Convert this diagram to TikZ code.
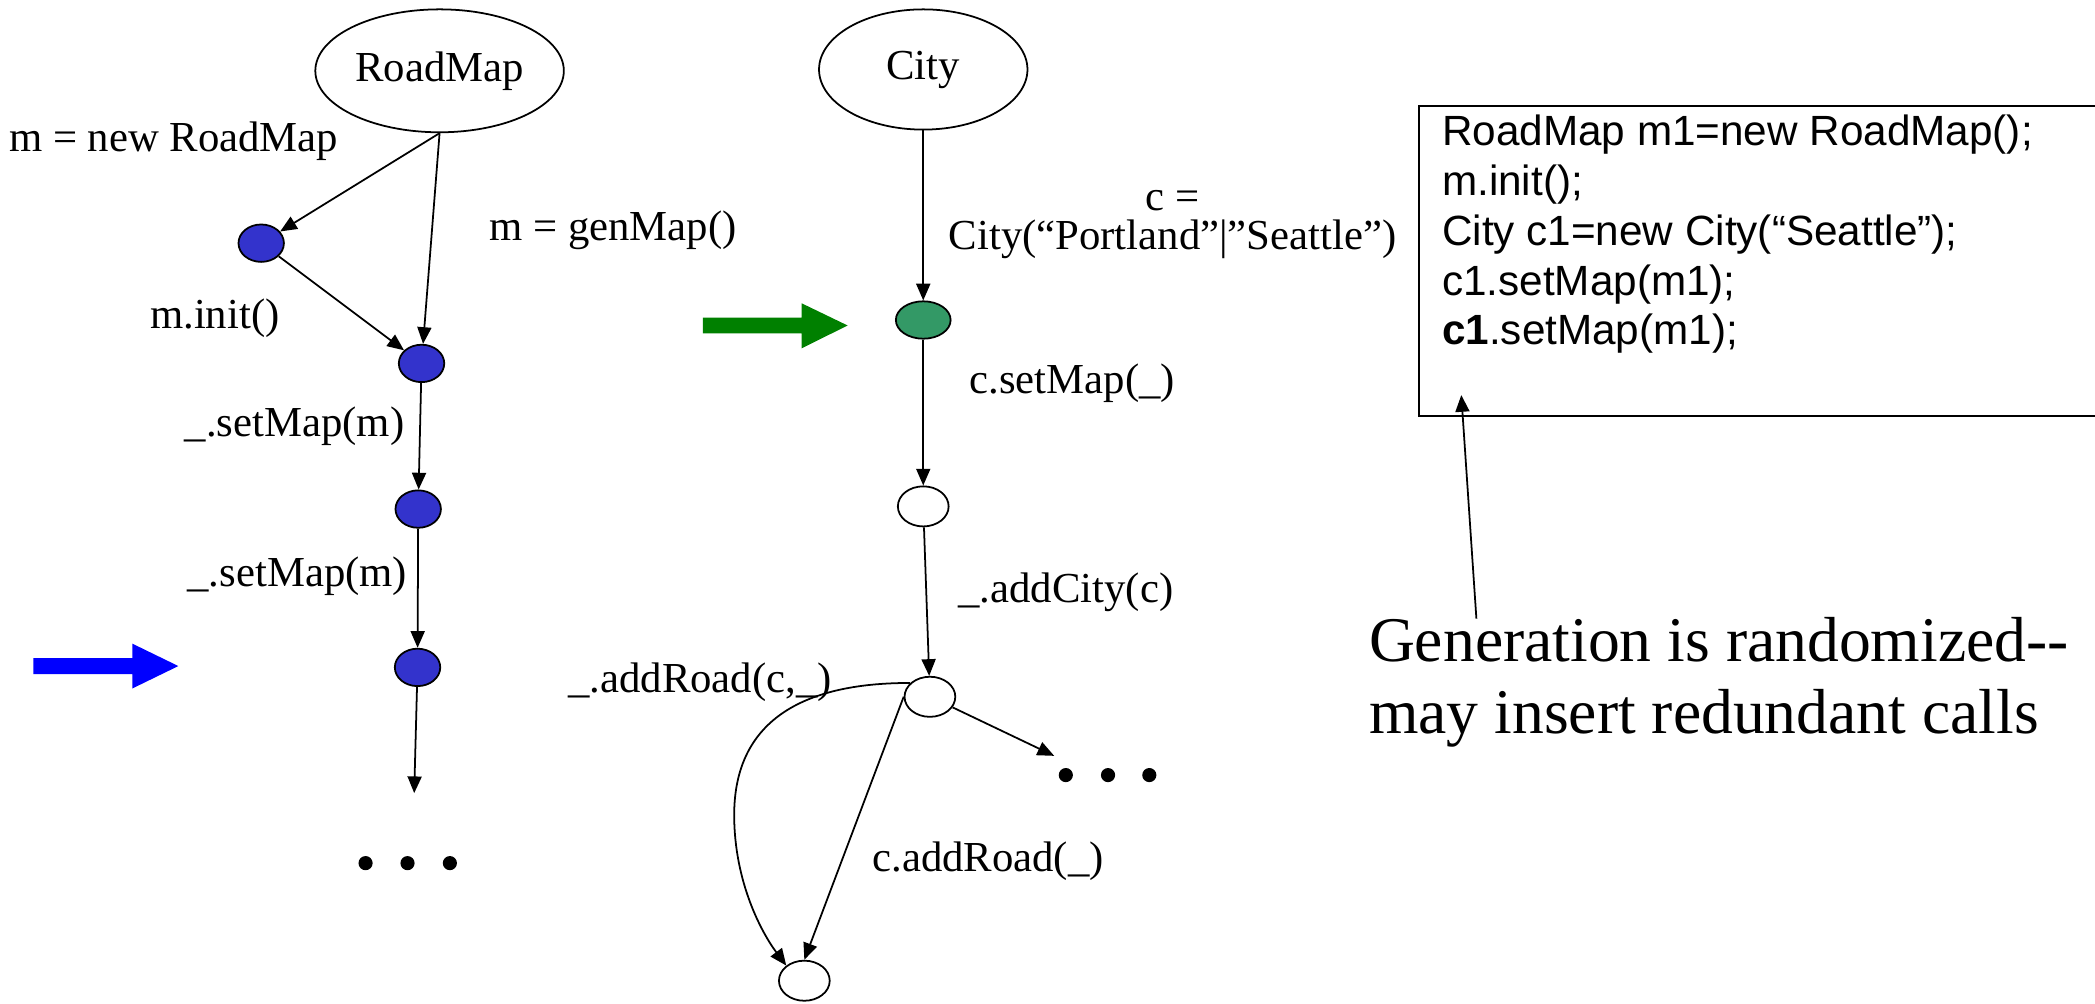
\documentclass[tikz,border=0pt]{standalone}
\usepackage{fontspec}
\setmainfont{Liberation Serif}
\setsansfont{Liberation Sans}
\usetikzlibrary{shapes.geometric,arrows.meta}
\definecolor{objblue}{HTML}{3333CC}
\definecolor{objgreen}{HTML}{339966}
\definecolor{fatgreen}{HTML}{008000}

\begin{document}
\begin{tikzpicture}[x=0.2mm,y=-0.2mm,
	cls/.style={ellipse,draw,line width=0.75pt,inner sep=0pt,font=\fontsize{18.2}{20}\selectfont},
	obj/.style={ellipse,draw,line width=0.75pt,inner sep=0pt,minimum width=7.6mm,minimum height=6mm},
	bobj/.style={obj,fill=objblue,minimum width=6.8mm,minimum height=5.6mm},
	lbl/.style={anchor=base west,inner sep=0pt,font=\fontsize{18.2}{17}\selectfont},
	link/.style={-{Triangle[length=2.5mm,width=2.1mm]},line width=0.75pt}]
	\useasboundingbox (0,0) rectangle (1568,751);
	% RoadMap side
	\node (rm)[cls,minimum width=37.2mm,minimum height=18.4mm] at (329,53) {RoadMap};
	\node (m1)[bobj] at (195.5,182) {};
	\node (m2)[bobj] at (315.5,272) {};
	\node (m3)[bobj] at (313,381) {};
	\node (m4)[bobj] at (312.5,499.5) {};
	\coordinate (mend) at (310,593.6);
	\draw[link] (rm.south) -- (m1);
	\draw[link] (rm.south) -- (m2);
	\draw[link] (m1) -- (m2);
	\draw[link] (m2) -- (m3);
	\draw[link] (m3) -- (m4);
	\draw[link] (m4) -- (mend);
	\node (l1)[lbl] at (6.5,113.5) {m = new RoadMap};
	\node (l2)[lbl] at (112,246) {m.init()};
	\node (l3)[lbl] at (366,180) {m = genMap()};
	\node (l4)[lbl] at (138,326.7) {\_.setMap(m)};
	\node (l5)[lbl] at (140,439) {\_.setMap(m)};
	\fill (273.6,646) circle (5.3) (305,646) circle (5.3) (336.7,646) circle (5.3);
	\fill[blue] (25,492.6) -- (99,492.6) -- (99,481.7) -- (133.5,498.5) -- (99,515.3) -- (99,504.5) -- (25,504.5) -- cycle;
	% City side
	\node (city)[cls,minimum width=31.2mm,minimum height=18mm] at (691,52) {City};
	\node (c1)[obj,fill=objgreen,minimum width=8.2mm,minimum height=5.6mm] at (691,239.5) {};
	\node (c2)[obj] at (691,379) {};
	\node (c3)[obj] at (696,521.5) {};
	\node (c4)[obj] at (602,734) {};
	\coordinate (cend) at (789,565.7);
	\draw[link] (city) -- (c1);
	\draw[link] (c1) -- (c2);
	\draw[link] (c2) -- (c3);
	\draw[link] (c3.-25) -- (cend);
	\draw[link] (c3.west) -- (c4.north);
	\draw[link] (c3.145) .. controls (600,511) and (549.5,540) .. (549.5,610)
		.. controls (549.5,660) and (570,698) .. (c4.140);
	\node (l6)[lbl,anchor=base,align=center] at (877.6,187.1) {c =\\City(“Portland”|”Seattle”)};
	\node (l7)[lbl] at (725.4,294.4) {c.setMap(\_)};
	\node (l8)[lbl] at (717,450.6) {\_.addCity(c)};
	\node (l9)[lbl] at (425,518.5) {\_.addRoad(c,\_)};
	\node (l10)[lbl] at (652.6,652.1) {c.addRoad(\_)};
	\fill (797.7,580.1) circle (5.3) (829.3,580.1) circle (5.3) (860.2,580.1) circle (5.3);
	\fill[fatgreen] (526,237.8) -- (600,237.8) -- (600,227) -- (634.4,243.6) -- (600,260.7) -- (600,249.5) -- (526,249.5) -- cycle;
	% code box and note
	\draw[line width=0.85pt] (1568,79.3) -- (1062,79.3) -- (1062,311.4) -- (1568,311.4);
	\node (code)[anchor=base west,inner sep=0pt,align=left,font=\sffamily\fontsize{18}{21.2}\selectfont] at (1079,258.2)
		{RoadMap m1=new RoadMap();\\m.init();\\City c1=new City(“Seattle”);\\c1.setMap(m1);\\\textbf{c1}.setMap(m1);};
	\node (note)[anchor=base west,inner sep=0pt,align=left,font=\fontsize{27.1}{30.5}\selectfont] at (1024.3,548.9)
		{Generation is randomized-{}-\\may insert redundant calls};
	\coordinate (notetop) at (1105,463);
	\coordinate (boxin) at (1093.7,295.7);
	\draw[link] (notetop) -- (boxin);
\end{tikzpicture}
\end{document}
